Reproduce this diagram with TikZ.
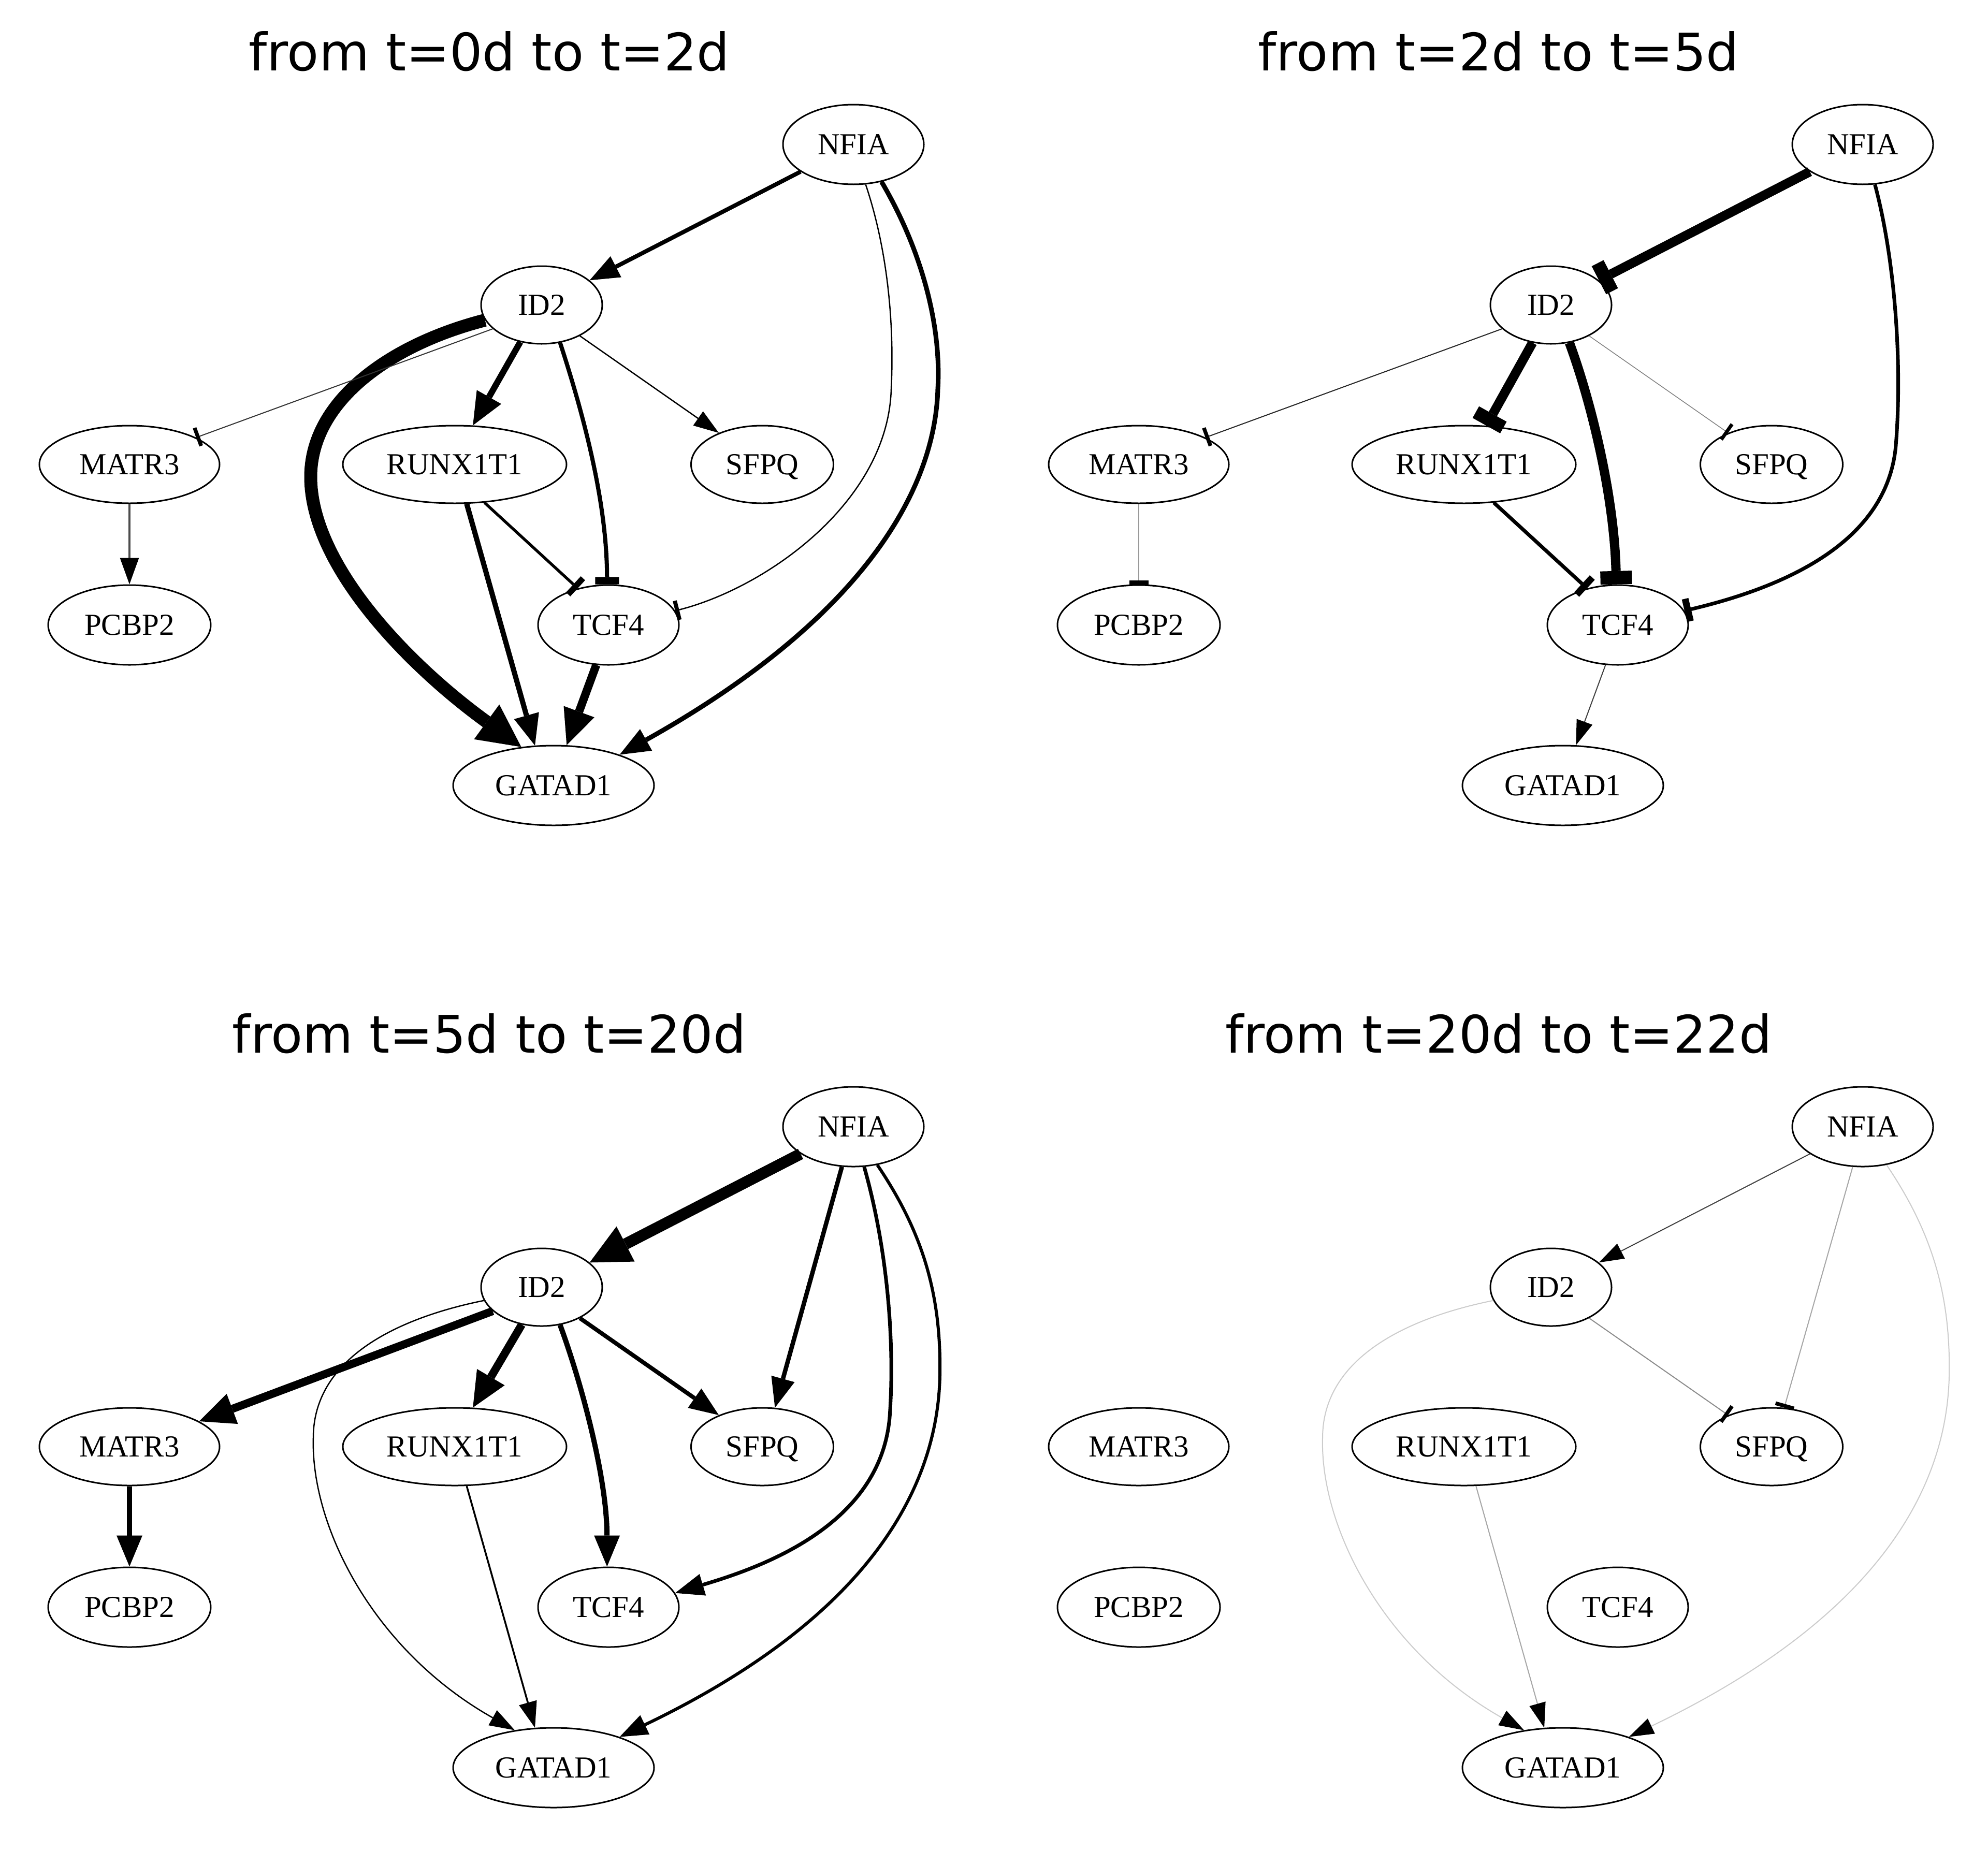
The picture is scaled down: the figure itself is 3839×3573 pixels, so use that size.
\documentclass[tikz,border=0pt]{standalone}
\usepackage{fontspec}
\newfontfamily\genefamily{Liberation Serif}
\newfontfamily\titlefamily{DejaVu Sans}
\usetikzlibrary{shapes.geometric,arrows.meta}
\tikzset{
  gene/.style={ellipse, draw, line width=3pt, inner sep=0pt, text height=39pt, text depth=0pt,
    font=\genefamily\fontsize{59pt}{70pt}\selectfont},
  ttl/.style={anchor=base, font=\titlefamily\fontsize{100pt}{120pt}\selectfont},
  act/.style={-{Triangle[length=45pt 1.5, width=28pt 2.2, line width=0pt, color=black]}},
  inh/.style={-{Rectangle[length=5pt 1.15, width=34pt 1.5, line width=0pt, color=black]}},
}
\newcommand\drawgenes[1]{%
  \node[gene, minimum width=272pt, minimum height=154pt] (#1nfia) at (1648,279) {NFIA};
  \node[gene, minimum width=234pt, minimum height=150pt] (#1id2) at (1046,589) {ID2};
  \node[gene, minimum width=348pt, minimum height=150pt] (#1matr3) at (250,897) {MATR3};
  \node[gene, minimum width=432pt, minimum height=150pt] (#1runx) at (878,897) {RUNX1T1};
  \node[gene, minimum width=275pt, minimum height=150pt] (#1sfpq) at (1472,897) {SFPQ};
  \node[gene, minimum width=314pt, minimum height=154pt] (#1pcbp2) at (250,1207) {PCBP2};
  \node[gene, minimum width=272pt, minimum height=154pt] (#1tcf4) at (1175,1207) {TCF4};
  \node[gene, minimum width=388pt, minimum height=154pt] (#1gatad) at (1069,1517) {GATAD1};
}
\begin{document}
\begin{tikzpicture}[x=1pt,y=-1pt]
\path[fill=white] (0,0) rectangle (3839,3573);
\useasboundingbox (0,0) rectangle (3839,3573);

% ---------- panel 1 ----------
\begin{scope}
\drawgenes{a}
\node[ttl] (ta) at (945,136) {from t=0d to t=2d};
\draw[act, line width=8pt] (anfia) -- (aid2);
\draw[inh, line width=2.5pt] (anfia.287) .. controls (1715,485) and (1727,630) .. (1721,751) .. controls (1715,969) and (1480,1135) .. (atcf4.12);
\draw[act, line width=9pt] (anfia.307) .. controls (1781,485) and (1818,630) .. (1811,751) .. controls (1805,969) and (1636,1212) .. (agatad.25);
\draw[act, line width=25pt] (aid2.195) .. controls (751,666) and (600,776) .. (600,921) .. controls (600,1091) and (788,1284) .. (agatad.130);
\draw[inh, line width=2pt, draw=black!80] (aid2.206) -- (amatr3.22);
\draw[act, line width=12pt] (aid2.240) -- (arunx.65);
\draw[inh, line width=8pt] (aid2.296) .. controls (1120,780) and (1172,960) .. (atcf4.92);
\draw[act, line width=2.5pt] (aid2.321) -- (asfpq.144);
\draw[act, line width=10pt] (arunx.287) -- (agatad.115);
\draw[inh, line width=5.5pt] (arunx.308) -- (atcf4.130);
\draw[act, line width=16pt] (atcf4.253) -- (agatad.72);
\draw[act, line width=4pt, draw=black!70] (amatr3) -- (apcbp2);
\end{scope}

% ---------- panel 2 ----------
\begin{scope}[shift={(1949,0)}]
\drawgenes{b}
\node[ttl] (tb) at (945,136) {from t=2d to t=5d};
\draw[inh, line width=18pt] (bnfia) -- (bid2);
\draw[inh, line width=7pt] (bnfia.287) .. controls (1710,500) and (1725,700) .. (1712,860) .. controls (1695,1060) and (1470,1140) .. (btcf4.12);
\draw[inh, line width=2pt, draw=black!85] (bid2.206) -- (bmatr3.22);
\draw[inh, line width=18pt] (bid2.244) -- (brunx.60);
\draw[inh, line width=18pt] (bid2.296) .. controls (1125,780) and (1168,960) .. (btcf4.92);
\draw[inh, line width=1.5pt, draw=black!50] (bid2.321) -- (bsfpq.144);
\draw[inh, line width=7pt] (brunx.308) -- (btcf4.130);
\draw[inh, line width=2pt, draw=black!40] (bmatr3) -- (bpcbp2);
\draw[act, line width=2pt, draw=black!75] (btcf4.253) -- (bgatad.72);
\end{scope}

% ---------- panel 3 ----------
\begin{scope}[shift={(0,1897)}]
\drawgenes{c}
\node[ttl] (tc) at (945,136) {from t=5d to t=20d};
\draw[act, line width=22pt] (cnfia) -- (cid2);
\draw[act, line width=8.5pt] (cnfia.254) -- (csfpq.72);
\draw[act, line width=7pt] (cnfia.285) .. controls (1715,520) and (1728,700) .. (1718,840) .. controls (1700,1050) and (1470,1130) .. (ctcf4.12);
\draw[act, line width=6pt] (cnfia.302) .. controls (1780,480) and (1818,600) .. (1815,760) .. controls (1810,1000) and (1650,1240) .. (cgatad.25);
\draw[act, line width=15.5pt] (cid2.206) -- (cmatr3.20);
\draw[act, line width=2.5pt] (cid2.193) .. controls (760,650) and (605,730) .. (605,880) .. controls (600,1050) and (720,1290) .. (cgatad.136);
\draw[act, line width=15.5pt] (cid2.242) -- (crunx.65);
\draw[act, line width=10pt] (cid2.296) .. controls (1125,780) and (1172,960) .. (ctcf4.92);
\draw[act, line width=8pt] (cid2.321) -- (csfpq.144);
\draw[act, line width=3.5pt] (crunx.287) -- (cgatad.115);
\draw[act, line width=10pt] (cmatr3) -- (cpcbp2);
\end{scope}

% ---------- panel 4 ----------
\begin{scope}[shift={(1949,1897)}]
\drawgenes{d}
\node[ttl] (td) at (945,136) {from t=20d to t=22d};
\draw[act, line width=2pt, draw=black!75] (dnfia) -- (did2);
\draw[inh, line width=2pt, draw=black!35] (dnfia.256) -- (dsfpq.72);
\draw[act, line width=2pt, draw=black!20] (dnfia.302) .. controls (1780,480) and (1818,600) .. (1815,760) .. controls (1810,1000) and (1650,1240) .. (dgatad.25);
\draw[inh, line width=2pt, draw=black!45] (did2.321) -- (dsfpq.144);
\draw[act, line width=2pt, draw=black!20] (did2.193) .. controls (760,650) and (605,730) .. (605,880) .. controls (600,1050) and (720,1290) .. (dgatad.136);
\draw[act, line width=2pt, draw=black!35] (drunx.287) -- (dgatad.115);
\end{scope}
\end{tikzpicture}
\end{document}
